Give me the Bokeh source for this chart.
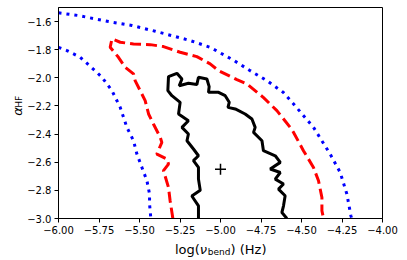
import math
from bokeh.plotting import figure
from bokeh.layouts import row, column
from bokeh.models import Range1d, FixedTicker, CustomJSTickFormatter
from bokeh.core.properties import value
from bokeh.embed import file_html
from bokeh.resources import INLINE

# ---- data ----
x_ticks = [-6.0, -5.75, -5.5, -5.25, -5.0, -4.75, -4.5, -4.25, -4.0]
x_tick_labels = ["−6.00", "−5.75", "−5.50", "−5.25", "−5.00", "−4.75", "−4.50", "−4.25", "−4.00"]
y_ticks = [-3.0, -2.8, -2.6, -2.4, -2.2, -2.0, -1.8, -1.6]
y_tick_labels = ["−3.0", "−2.8", "−2.6", "−2.4", "−2.2", "−2.0", "−1.8", "−1.6"]

# innermost contour (solid black)
black_x = [-5.136, -5.136, -5.177, -5.125, -5.136, -5.136, -5.167, -5.136, -5.167, -5.207,
           -5.198, -5.238, -5.198, -5.259, -5.249, -5.300, -5.325, -5.321, -5.269, -5.238,
           -5.255, -5.198, -5.146, -5.136, -5.084, -5.070, -5.074, -5.012, -4.971, -4.946,
           -4.954, -4.909, -4.848, -4.806, -4.786, -4.796, -4.744, -4.735, -4.662, -4.631,
           -4.693, -4.631, -4.662, -4.611, -4.642, -4.601, -4.611, -4.621, -4.590]
black_y = [-3.000, -2.910, -2.840, -2.800, -2.720, -2.637, -2.589, -2.554, -2.506, -2.447,
           -2.399, -2.352, -2.305, -2.257, -2.174, -2.127, -2.091, -1.991, -1.968, -2.008,
           -2.056, -2.039, -2.048, -1.996, -2.008, -2.063, -2.103, -2.103, -2.127, -2.174,
           -2.210, -2.221, -2.257, -2.293, -2.352, -2.388, -2.447, -2.518, -2.554, -2.601,
           -2.648, -2.673, -2.720, -2.755, -2.791, -2.838, -2.910, -2.957, -3.000]

# middle contour (dashed red)
red_x = [-5.294, -5.311, -5.321, -5.352, -5.321, -5.331, -5.393, -5.362, -5.372, -5.414,
         -5.444, -5.465, -5.496, -5.527, -5.537, -5.588, -5.630, -5.681, -5.670, -5.619,
         -5.537, -5.434, -5.352, -5.249, -5.146, -5.064, -5.012, -4.899, -4.837, -4.736,
         -4.652, -4.570, -4.549, -4.488, -4.426, -4.395, -4.374, -4.374, -4.364]
red_y = [-3.000, -2.874, -2.779, -2.660, -2.613, -2.577, -2.542, -2.459, -2.423, -2.328,
         -2.257, -2.162, -2.091, -2.020, -1.972, -1.925, -1.854, -1.783, -1.723, -1.747,
         -1.759, -1.764, -1.778, -1.818, -1.849, -1.901, -1.949, -2.013, -2.043, -2.139,
         -2.233, -2.352, -2.388, -2.518, -2.637, -2.732, -2.851, -2.945, -3.000]

# outer contour (dotted blue), leaves the plot at the left edge: two visible pieces
blue_in_x = [-6.000, -5.948, -5.866, -5.763, -5.732, -5.670, -5.619, -5.578, -5.537,
             -5.516, -5.485, -5.454, -5.438, -5.438, -5.430]
blue_in_y = [-1.783, -1.806, -1.854, -1.961, -1.996, -2.091, -2.210, -2.352, -2.447,
             -2.542, -2.637, -2.732, -2.826, -2.897, -3.000]
blue_out_x = [-6.000, -5.877, -5.773, -5.691, -5.547, -5.403, -5.300, -5.187, -5.064,
              -4.922, -4.817, -4.714, -4.613, -4.549, -4.426, -4.323, -4.261, -4.220,
              -4.195, -4.190]
blue_out_y = [-1.538, -1.557, -1.581, -1.600, -1.628, -1.669, -1.700, -1.735, -1.783,
              -1.873, -1.949, -2.020, -2.103, -2.186, -2.352, -2.542, -2.673, -2.826,
              -2.981, -3.000]

best_x = [-5.0]
best_y = [-2.65]

# axis-label pieces
xlabel_parts = ["log(", "ν", "bend", ") (Hz)"]
ylabel_parts = ["α", "HF"]

FONT = "DejaVu Sans"
YLAB_W = 24
MAIN_W = 381
MAIN_H = 238
XLAB_H = 20

# ---------------- main plot ----------------
p = figure(width=MAIN_W, height=MAIN_H,
           x_range=Range1d(-6.0, -4.0), y_range=Range1d(-3.0, -1.5),
           output_backend="svg", toolbar_location=None,
           min_border_left=34, min_border_right=23,
           min_border_top=7, min_border_bottom=20)
p.xgrid.visible = False
p.ygrid.visible = False
p.outline_line_color = "black"
p.outline_line_width = 1
p.background_fill_color = "white"
p.border_fill_color = "white"

fmt_code = """
let best = 0; let d = Infinity;
for (let i = 0; i < tvals.length; i++) {
  const e = Math.abs(tvals[i] - tick);
  if (e < d) { d = e; best = i; }
}
return tlabels[best];
"""
p.xaxis.ticker = FixedTicker(ticks=x_ticks)
p.yaxis.ticker = FixedTicker(ticks=y_ticks)
p.xaxis.formatter = CustomJSTickFormatter(args=dict(tvals=x_ticks, tlabels=x_tick_labels), code=fmt_code)
p.yaxis.formatter = CustomJSTickFormatter(args=dict(tvals=y_ticks, tlabels=y_tick_labels), code=fmt_code)
for ax in (p.xaxis[0], p.yaxis[0]):
    ax.axis_line_color = "black"
    ax.axis_line_width = 1
    ax.major_tick_out = 4
    ax.major_tick_in = 0
    ax.major_tick_line_color = "black"
    ax.minor_tick_line_color = None
    ax.major_label_text_font = FONT
    ax.major_label_text_font_size = "10px"
    ax.major_label_text_color = "black"
    ax.major_label_standoff = 3

p.line(blue_in_x, blue_in_y, line_color="#0000ff", line_width=3, line_dash="3 5")
p.line(blue_out_x, blue_out_y, line_color="#0000ff", line_width=3, line_dash="3 5")
p.line(red_x, red_y, line_color="#ff0000", line_width=3, line_dash="11 5")
p.line(black_x, black_y, line_color="black", line_width=3)
p.scatter(best_x, best_y, marker="cross", size=11, line_color="black", line_width=1.5)


def label_fig(w, h):
    f = figure(width=w, height=h, x_range=Range1d(0, w), y_range=Range1d(0, h),
               output_backend="svg", toolbar_location=None,
               x_axis_location=None, y_axis_location=None,
               min_border=0, min_border_left=0, min_border_right=0,
               min_border_top=0, min_border_bottom=0)
    f.xgrid.visible = False
    f.ygrid.visible = False
    f.outline_line_color = None
    f.background_fill_color = "white"
    f.border_fill_color = "white"
    return f


# ---------------- y label: α_HF (rotated, reads upward) ----------------
yl = label_fig(YLAB_W, MAIN_H)
yl.text(x=[16.5], y=[116.0], text=[ylabel_parts[0]], angle=math.pi / 2,
        text_font=value(FONT), text_font_style="italic", text_font_size=value("13px"),
        text_align="left", text_baseline="alphabetic", text_color="black")
yl.text(x=[18.5], y=[124.8], text=[ylabel_parts[1]], angle=math.pi / 2,
        text_font=value(FONT), text_font_size=value("9px"),
        text_align="left", text_baseline="alphabetic", text_color="black")

# ---------------- x label: log(ν_bend) (Hz) ----------------
xl = label_fig(YLAB_W + MAIN_W, XLAB_H)
xl.text(x=[174.4], y=[9.5], text=[xlabel_parts[0]],
        text_font=value(FONT), text_font_size=value("13px"),
        text_align="left", text_baseline="alphabetic", text_color="black")
xl.text(x=[199.3], y=[9.5], text=[xlabel_parts[1]],
        text_font=value(FONT), text_font_style="italic", text_font_size=value("13px"),
        text_align="left", text_baseline="alphabetic", text_color="black")
xl.text(x=[207.2], y=[6.5], text=[xlabel_parts[2]],
        text_font=value(FONT), text_font_size=value("9px"),
        text_align="left", text_baseline="alphabetic", text_color="black")
xl.text(x=[230.0], y=[9.5], text=[xlabel_parts[3]],
        text_font=value(FONT), text_font_size=value("13px"),
        text_align="left", text_baseline="alphabetic", text_color="black")

layout = column(row(yl, p), xl)
open("out.html", "w").write(file_html(layout, INLINE))
